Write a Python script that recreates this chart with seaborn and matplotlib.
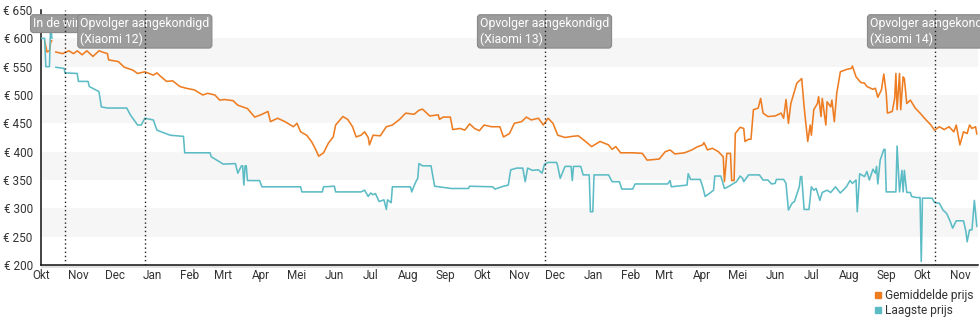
import matplotlib
matplotlib.use("Agg")
import matplotlib.pyplot as plt
import matplotlib.dates as mdates
from matplotlib.lines import Line2D
from matplotlib.patches import Rectangle
from matplotlib.ticker import FuncFormatter
import pandas as pd
import seaborn as sns

# Price history (EUR) -- average shop price and lowest shop price
avg_launch = [("2021-10-04", 595), ("2021-10-06", 576), ("2021-10-08", 578),
              ("2021-10-09", 593), ("2021-10-10", 596)]
low_launch = [("2021-10-01", 600), ("2021-10-04", 600), ("2021-10-05", 550),
              ("2021-10-08", 550), ("2021-10-09", 628), ("2021-10-10", 600)]

avg_main = [
    ("2021-10-13", 576), ("2021-10-19", 573), ("2021-10-24", 578), ("2021-10-28", 573),
    ("2021-10-31", 578), ("2021-11-04", 571), ("2021-11-08", 578), ("2021-11-13", 568),
    ("2021-11-18", 578), ("2021-11-22", 575), ("2021-11-25", 573), ("2021-11-26", 562),
    ("2021-12-04", 559), ("2021-12-09", 549), ("2021-12-16", 544), ("2021-12-20", 538),
    ("2021-12-26", 541), ("2022-01-02", 535), ("2022-01-05", 539), ("2022-01-08", 533),
    ("2022-01-13", 524), ("2022-01-18", 525), ("2022-01-24", 515), ("2022-01-29", 512),
    ("2022-02-05", 509), ("2022-02-12", 500), ("2022-02-16", 503), ("2022-02-22", 500),
    ("2022-02-26", 491), ("2022-03-02", 492), ("2022-03-09", 490), ("2022-03-13", 482),
    ("2022-03-17", 479), ("2022-03-21", 476), ("2022-03-27", 461), ("2022-04-01", 465),
    ("2022-04-07", 471), ("2022-04-09", 453), ("2022-04-15", 459), ("2022-04-21", 453),
    ("2022-04-28", 444), ("2022-05-01", 450), ("2022-05-04", 435), ("2022-05-09", 429),
    ("2022-05-13", 418), ("2022-05-16", 406), ("2022-05-19", 392), ("2022-05-23", 398),
    ("2022-05-27", 415), ("2022-05-31", 426), ("2022-06-02", 447), ("2022-06-08", 462),
    ("2022-06-12", 457), ("2022-06-16", 444), ("2022-06-19", 426), ("2022-06-23", 429),
    ("2022-06-26", 435), ("2022-06-29", 425), ("2022-06-30", 412), ("2022-07-03", 429),
    ("2022-07-09", 428), ("2022-07-14", 444), ("2022-07-19", 447), ("2022-07-25", 457),
    ("2022-07-30", 468), ("2022-08-06", 466), ("2022-08-10", 473), ("2022-08-13", 475),
    ("2022-08-19", 463), ("2022-08-26", 465), ("2022-08-27", 457), ("2022-08-30", 461),
    ("2022-09-05", 461), ("2022-09-07", 439), ("2022-09-13", 441), ("2022-09-17", 438),
    ("2022-09-21", 449), ("2022-09-25", 441), ("2022-09-29", 437), ("2022-10-03", 447),
    ("2022-10-09", 444), ("2022-10-16", 444), ("2022-10-19", 426), ("2022-10-24", 432),
    ("2022-10-28", 450), ("2022-11-03", 453), ("2022-11-07", 461), ("2022-11-11", 456),
    ("2022-11-17", 459), ("2022-11-21", 447), ("2022-11-25", 459), ("2022-11-29", 450),
    ("2022-12-03", 429), ("2022-12-09", 425), ("2022-12-15", 427), ("2022-12-20", 428),
    ("2022-12-26", 418), ("2022-12-31", 409), ("2023-01-07", 418), ("2023-01-14", 412),
    ("2023-01-17", 404), ("2023-01-20", 409), ("2023-01-24", 398), ("2023-01-30", 398),
    ("2023-02-04", 398), ("2023-02-11", 397), ("2023-02-15", 385), ("2023-02-25", 387),
    ("2023-03-02", 400), ("2023-03-06", 403), ("2023-03-10", 396), ("2023-03-18", 398),
    ("2023-03-24", 403), ("2023-03-28", 408), ("2023-04-02", 412), ("2023-04-03", 416),
    ("2023-04-06", 403), ("2023-04-10", 406), ("2023-04-15", 400), ("2023-04-19", 391),
    ("2023-04-20", 347), ("2023-04-22", 397), ("2023-04-25", 397), ("2023-04-26", 349),
    ("2023-04-28", 349), ("2023-04-29", 432), ("2023-05-03", 443), ("2023-05-06", 441),
    ("2023-05-07", 418), ("2023-05-10", 422), ("2023-05-12", 422), ("2023-05-14", 474),
    ("2023-05-18", 477), ("2023-05-20", 494), ("2023-05-22", 468), ("2023-05-26", 462),
    ("2023-06-01", 463), ("2023-06-06", 468), ("2023-06-08", 459), ("2023-06-10", 492),
    ("2023-06-12", 450), ("2023-06-14", 485), ("2023-06-19", 521), ("2023-06-23", 529),
    ("2023-06-25", 479), ("2023-06-28", 418), ("2023-06-30", 447), ("2023-07-01", 429),
    ("2023-07-03", 474), ("2023-07-06", 485), ("2023-07-07", 497), ("2023-07-09", 462),
    ("2023-07-10", 494), ("2023-07-13", 447), ("2023-07-14", 488), ("2023-07-17", 479),
    ("2023-07-18", 491), ("2023-07-20", 453), ("2023-07-22", 503), ("2023-07-25", 541),
    ("2023-07-30", 545), ("2023-08-03", 547), ("2023-08-04", 551), ("2023-08-07", 532),
    ("2023-08-11", 522), ("2023-08-14", 521), ("2023-08-16", 515), ("2023-08-21", 510),
    ("2023-08-23", 512), ("2023-08-25", 496), ("2023-08-28", 509), ("2023-08-30", 537),
    ("2023-09-01", 503), ("2023-09-02", 468), ("2023-09-06", 471), ("2023-09-08", 494),
    ("2023-09-09", 538), ("2023-09-10", 474), ("2023-09-12", 538), ("2023-09-13", 474),
    ("2023-09-15", 532), ("2023-09-16", 529), ("2023-09-18", 485), ("2023-09-21", 491),
    ("2023-09-25", 477), ("2023-09-29", 468), ("2023-10-04", 456), ("2023-10-08", 447),
    ("2023-10-11", 438), ("2023-10-15", 444), ("2023-10-19", 439), ("2023-10-23", 444),
    ("2023-10-27", 435), ("2023-10-29", 447), ("2023-11-01", 412), ("2023-11-04", 435),
    ("2023-11-07", 432), ("2023-11-09", 447), ("2023-11-11", 441), ("2023-11-14", 444),
    ("2023-11-15", 431),
]

low_main = [
    ("2021-10-13", 549), ("2021-10-20", 547), ("2021-10-21", 539), ("2021-10-31", 538),
    ("2021-11-01", 524), ("2021-11-09", 524), ("2021-11-10", 515), ("2021-11-18", 506),
    ("2021-11-20", 479), ("2021-11-25", 477), ("2021-12-11", 477), ("2021-12-14", 465),
    ("2021-12-16", 459), ("2021-12-20", 447), ("2021-12-23", 447), ("2021-12-26", 459),
    ("2022-01-02", 456), ("2022-01-05", 438), ("2022-01-16", 429), ("2022-01-27", 427),
    ("2022-01-28", 398), ("2022-02-18", 398), ("2022-02-19", 391), ("2022-03-01", 378),
    ("2022-03-11", 379), ("2022-03-13", 362), ("2022-03-16", 375), ("2022-03-17", 375),
    ("2022-03-18", 341), ("2022-03-19", 375), ("2022-03-20", 375), ("2022-03-21", 349),
    ("2022-03-31", 349), ("2022-04-02", 338), ("2022-05-04", 338), ("2022-05-05", 329),
    ("2022-05-22", 329), ("2022-05-23", 338), ("2022-06-01", 339), ("2022-06-02", 329),
    ("2022-06-23", 329), ("2022-06-26", 332), ("2022-06-29", 321), ("2022-07-01", 327),
    ("2022-07-03", 324), ("2022-07-05", 326), ("2022-07-08", 312), ("2022-07-12", 315),
    ("2022-07-14", 298), ("2022-07-15", 315), ("2022-07-18", 310), ("2022-07-19", 338),
    ("2022-08-03", 338), ("2022-08-04", 329), ("2022-08-07", 345), ("2022-08-09", 353),
    ("2022-08-10", 379), ("2022-08-13", 375), ("2022-08-20", 375), ("2022-08-23", 339),
    ("2022-09-06", 335), ("2022-09-20", 335), ("2022-09-21", 339), ("2022-10-10", 338),
    ("2022-10-12", 334), ("2022-10-19", 339), ("2022-10-23", 341), ("2022-10-25", 368),
    ("2022-10-30", 371), ("2022-11-04", 371), ("2022-11-06", 347), ("2022-11-08", 371),
    ("2022-11-12", 367), ("2022-11-17", 368), ("2022-11-20", 362), ("2022-11-22", 378),
    ("2022-11-25", 381), ("2022-12-02", 381), ("2022-12-03", 374), ("2022-12-05", 353),
    ("2022-12-09", 374), ("2022-12-14", 374), ("2022-12-15", 349), ("2022-12-16", 374),
    ("2022-12-22", 374), ("2022-12-24", 359), ("2022-12-29", 359), ("2022-12-30", 294),
    ("2023-01-01", 294), ("2023-01-02", 359), ("2023-01-14", 359), ("2023-01-17", 347),
    ("2023-01-23", 347), ("2023-01-25", 334), ("2023-02-03", 334), ("2023-02-05", 343),
    ("2023-03-04", 343), ("2023-03-06", 349), ("2023-03-07", 338), ("2023-03-11", 339),
    ("2023-03-20", 341), ("2023-03-21", 361), ("2023-03-23", 351), ("2023-03-31", 351),
    ("2023-04-02", 338), ("2023-04-04", 321), ("2023-04-08", 327), ("2023-04-11", 332),
    ("2023-04-12", 357), ("2023-04-17", 357), ("2023-04-20", 335), ("2023-04-23", 338),
    ("2023-04-30", 347), ("2023-05-03", 357), ("2023-05-05", 353), ("2023-05-06", 347),
    ("2023-05-10", 359), ("2023-05-19", 359), ("2023-05-22", 350), ("2023-05-26", 350),
    ("2023-05-29", 343), ("2023-06-01", 344), ("2023-06-02", 351), ("2023-06-08", 351),
    ("2023-06-10", 344), ("2023-06-12", 297), ("2023-06-15", 309), ("2023-06-17", 312),
    ("2023-06-21", 338), ("2023-06-22", 356), ("2023-06-23", 356), ("2023-06-25", 298),
    ("2023-06-29", 298), ("2023-07-01", 338), ("2023-07-03", 332), ("2023-07-05", 335),
    ("2023-07-08", 314), ("2023-07-10", 328), ("2023-07-14", 332), ("2023-07-17", 328),
    ("2023-07-21", 338), ("2023-07-25", 327), ("2023-07-30", 338), ("2023-08-02", 349),
    ("2023-08-04", 344), ("2023-08-07", 350), ("2023-08-08", 294), ("2023-08-10", 361),
    ("2023-08-14", 356), ("2023-08-16", 365), ("2023-08-18", 350), ("2023-08-21", 369),
    ("2023-08-23", 362), ("2023-08-24", 374), ("2023-08-25", 343), ("2023-08-27", 385),
    ("2023-08-30", 404), ("2023-08-31", 404), ("2023-09-01", 329), ("2023-09-09", 329),
    ("2023-09-10", 410), ("2023-09-12", 329), ("2023-09-14", 367), ("2023-09-15", 329),
    ("2023-09-16", 367), ("2023-09-18", 328), ("2023-09-21", 328), ("2023-09-22", 321),
    ("2023-09-26", 319), ("2023-09-29", 319), ("2023-09-30", 206), ("2023-10-01", 318),
    ("2023-10-09", 318), ("2023-10-11", 310), ("2023-10-15", 309), ("2023-10-18", 297),
    ("2023-10-21", 291), ("2023-10-24", 277), ("2023-10-26", 265), ("2023-10-29", 278),
    ("2023-11-04", 278), ("2023-11-06", 259), ("2023-11-07", 241), ("2023-11-09", 262),
    ("2023-11-11", 262), ("2023-11-13", 314), ("2023-11-15", 268),
]

series_names = ["Gemiddelde prijs", "Laagste prijs"]
series_colors = ["#EE7D22", "#5CBCC5"]

event_dates = ["2021-10-21", "2021-12-26", "2022-11-22", "2023-10-11"]
event_labels = ["In de winkel",
                "Opvolger aangekondigd\n(Xiaomi 12)",
                "Opvolger aangekondigd\n(Xiaomi 13)",
                "Opvolger aangekondigd\n(Xiaomi 14)"]

month_names = ["Jan", "Feb", "Mrt", "Apr", "Mei", "Jun",
               "Jul", "Aug", "Sep", "Okt", "Nov", "Dec"]

y_ticks = [200, 250, 300, 350, 400, 450, 500, 550, 600, 650]
x_range = ("2021-10-01", "2023-11-16")


def to_frame(points, name, segment):
    frame = pd.DataFrame(points, columns=["date", "price"])
    frame["date"] = pd.to_datetime(frame["date"])
    frame["series"] = name
    frame["segment"] = segment
    return frame


df = pd.concat([
    to_frame(avg_launch, series_names[0], "a0"),
    to_frame(avg_main, series_names[0], "a1"),
    to_frame(low_launch, series_names[1], "l0"),
    to_frame(low_main, series_names[1], "l1"),
], ignore_index=True)

sns.set_style("white")
plt.rcParams["font.family"] = ["Roboto", "DejaVu Sans"]
text_color = "#333333"

fig = plt.figure(figsize=(9.8, 3.25), dpi=100)
ax = fig.add_axes([41 / 980, 1 - 265 / 325, 937 / 980, 255 / 325])

# alternating horizontal bands
for lo, hi in zip(y_ticks[1::2], y_ticks[2::2]):
    ax.axhspan(lo, hi, color="#f6f6f6", lw=0, zorder=0)

palette = dict(zip(series_names, series_colors))
sns.lineplot(data=df, x="date", y="price", hue="series", units="segment",
             estimator=None, sort=False, palette=palette, linewidth=1.15,
             legend=False, ax=ax, zorder=3)

ax.set_xlim(pd.Timestamp(x_range[0]), pd.Timestamp(x_range[1]))
ax.set_ylim(y_ticks[0], y_ticks[-1])
ax.set_xlabel("")
ax.set_ylabel("")

ax.set_yticks(y_ticks)
ax.yaxis.set_major_formatter(FuncFormatter(lambda v, _: f"€ {v:.0f}"))
ax.xaxis.set_major_locator(mdates.MonthLocator())
ax.xaxis.set_major_formatter(
    FuncFormatter(lambda v, _: month_names[mdates.num2date(v).month - 1]))

ax.tick_params(axis="y", direction="out", length=5, width=1, color="#222222",
               labelsize=8.5, labelcolor=text_color, pad=1)
ax.tick_params(axis="x", direction="inout", length=6, width=1, color="#222222",
               labelsize=8.5, labelcolor=text_color, pad=0)
for side in ("top", "right"):
    ax.spines[side].set_visible(False)
for side in ("left", "bottom"):
    ax.spines[side].set_color("#111111")
    ax.spines[side].set_linewidth(1.1)
ax.grid(False)

# thin strip under the time axis
ax.add_patch(Rectangle((0, -0.012), 1, 0.012, transform=ax.transAxes,
                       color="#e2e2e2", lw=0, clip_on=False, zorder=1))

# event markers with labels
for date, label in zip(event_dates, event_labels):
    x = pd.Timestamp(date)
    ax.axvline(x, color="#222222", lw=1.0, ls=(0, (1, 2)), zorder=6)
    ax.text(x, 0.972, label, ha="center", va="top", multialignment="left",
            fontsize=8.8, color="white", zorder=5, clip_on=False,
            transform=ax.get_xaxis_transform(),
            bbox=dict(boxstyle="round,pad=0.2,rounding_size=0.25",
                      fc="#9c9c9c", ec="#8a8a8a", lw=0.8))

handles = [Line2D([], [], marker="s", ls="", color=c, markersize=5)
           for c in series_colors]
fig.legend(handles, series_names, loc="upper left",
           bbox_to_anchor=(874 / 980, 1 - 289 / 325), frameon=False,
           fontsize=8.6, labelcolor=text_color, handlelength=0.6,
           handletextpad=0.3, labelspacing=0.15, borderpad=0, borderaxespad=0)

fig.savefig("out.png", dpi=100)
